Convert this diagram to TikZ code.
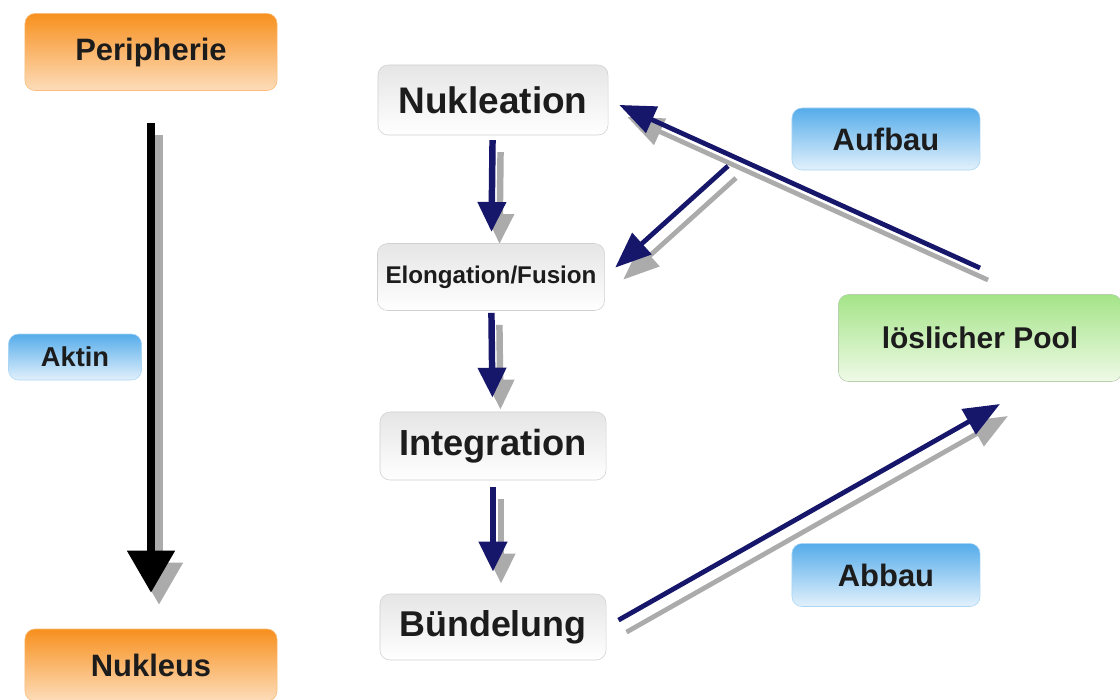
\documentclass[tikz,border=0pt]{standalone}
\usepackage{fontspec}
\setmainfont{Liberation Sans}
\usetikzlibrary{arrows.meta}

\definecolor{navy}{HTML}{16166A}
\definecolor{inktext}{HTML}{1C1C1C}
\definecolor{orangetop}{HTML}{F7901E}
\definecolor{orangebot}{HTML}{FDDDBA}
\definecolor{bluetop}{HTML}{55ACEA}
\definecolor{bluebot}{HTML}{E2F1FC}
\definecolor{greentop}{HTML}{A4E488}
\definecolor{greenbot}{HTML}{EFFAE7}

\tikzset{
  box/.style={rounded corners=0.25cm, inner sep=0pt, text=inktext, font=\bfseries},
  orangebox/.style={box, draw=orangetop!60, top color=orangetop, bottom color=orangebot},
  graybox/.style={box, draw=black!18, top color=black!10, bottom color=white},
  bluebox/.style={box, draw=bluetop!50, top color=bluetop, bottom color=bluebot},
  greenbox/.style={box, draw=greentop!70!black!50, top color=greentop, bottom color=greenbot},
  shadow/.style={draw=black!33, fill=black!33, transform canvas={shift={(8,12)}}},
  bigarrow/.style={line width=5.7pt, -{Triangle[width=1.15cm, length=1.05cm]}},
  flowarrow/.style={line width=4.6pt, -{Triangle[width=0.68cm, length=0.75cm]}},
  linkarrow/.style={line width=3.4pt, -{Triangle[width=0.7cm, length=0.9cm]}},
}

\begin{document}
\begin{tikzpicture}[x=0.025cm, y=-0.025cm]
\useasboundingbox (0,0) rectangle (1120,699);

% left column
\node[orangebox, minimum width=6.3cm, minimum height=1.925cm, font=\bfseries\fontsize{22}{26}\selectfont] (peri) at (151,52) {Peripherie};
\node[orangebox, minimum width=6.3cm, minimum height=1.8cm, font=\bfseries\fontsize{22}{26}\selectfont] (nukleus) at (151,665) {Nukleus};
\node[bluebox, minimum width=3.325cm, minimum height=1.15cm, font=\bfseries\fontsize{19.4}{23}\selectfont] (aktin) at (75,357) {Aktin};

% middle column
\node[graybox, minimum width=5.75cm, minimum height=1.75cm, font=\bfseries\fontsize{26.3}{31}\selectfont] (nukl) at (493,100) {Nukleation};
\node[graybox, minimum width=5.675cm, minimum height=1.675cm, font=\bfseries\fontsize{17.2}{20}\selectfont] (elong) at (491,277) {Elongation/Fusion};
\node[graybox, minimum width=5.65cm, minimum height=1.7cm, font=\bfseries\fontsize{25.8}{30}\selectfont] (integ) at (493,446) {Integration};
\node[graybox, minimum width=5.65cm, minimum height=1.65cm, font=\bfseries\fontsize{25.5}{30}\selectfont] (buend) at (493,627) {Bündelung};

% right column
\node[bluebox, minimum width=4.7cm, minimum height=1.55cm, font=\bfseries\fontsize{22}{26}\selectfont] (aufbau) at (886,139) {Aufbau};
\node[bluebox, minimum width=4.7cm, minimum height=1.575cm, font=\bfseries\fontsize{22}{26}\selectfont] (abbau) at (886,575) {Abbau};
\node[greenbox, minimum width=7.075cm, minimum height=2.175cm, font=\bfseries\fontsize{21.3}{25}\selectfont] (pool) at (980,338) {löslicher Pool};

\coordinate (c1) at (980,268);
\coordinate (c2) at (728,166);
\coordinate (c3) at (1000,404);

% shadows
\draw[shadow, bigarrow, shorten <=0.8cm, shorten >=0.9cm] (peri) -- (nukleus);
\draw[shadow, flowarrow, shorten <=0.12cm, shorten >=0.28cm] (nukl) -- (elong);
\draw[shadow, flowarrow, shorten <=0.05cm, shorten >=0.35cm] (elong) -- (integ);
\draw[shadow, flowarrow, shorten <=0.17cm, shorten >=0.55cm] (integ) -- (buend);
\draw[shadow, linkarrow, shorten >=0.3cm] (c1) -- (nukl.east);
\draw[shadow, linkarrow, shorten >=0.35cm] (c2) -- (elong.east);
\draw[shadow, linkarrow, shorten <=0.35cm] (buend.east) -- (c3);

% arrows
\draw[bigarrow, black, shorten <=0.8cm, shorten >=0.9cm] (peri) -- (nukleus);
\draw[flowarrow, navy, shorten <=0.12cm, shorten >=0.28cm] (nukl) -- (elong);
\draw[flowarrow, navy, shorten <=0.05cm, shorten >=0.35cm] (elong) -- (integ);
\draw[flowarrow, navy, shorten <=0.17cm, shorten >=0.55cm] (integ) -- (buend);
\draw[linkarrow, navy, shorten >=0.3cm] (c1) -- (nukl.east);
\draw[linkarrow, navy, shorten >=0.35cm] (c2) -- (elong.east);
\draw[linkarrow, navy, shorten <=0.35cm] (buend.east) -- (c3);
\end{tikzpicture}
\end{document}
